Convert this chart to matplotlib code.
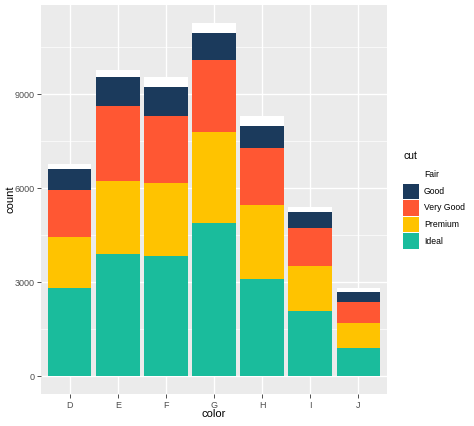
import matplotlib
matplotlib.use("Agg")
import matplotlib.pyplot as plt
import matplotlib.patches as mpatches
import numpy as np

plt.rcParams["font.family"] = ["Liberation Sans", "DejaVu Sans"]

# diamonds: count by color and cut
colors = ["D", "E", "F", "G", "H", "I", "J"]
cuts = ["Fair", "Good", "Very Good", "Premium", "Ideal"]
fair = [163, 224, 312, 314, 303, 175, 119]
good = [662, 933, 909, 871, 702, 522, 307]
very_good = [1513, 2400, 2164, 2299, 1824, 1204, 678]
premium = [1603, 2337, 2331, 2924, 2360, 1428, 808]
ideal = [2834, 3903, 3826, 4884, 3115, 2093, 896]
yticks = [0, 3000, 6000, 9000]

fills = {"Fair": "#FFFFFF", "Good": "#1B3A5C", "Very Good": "#FF5733",
         "Premium": "#FFC300", "Ideal": "#1ABC9C"}

W, H = 474, 426
fig = plt.figure(figsize=(W / 100, H / 100), dpi=100)
ax_l, ax_b, ax_w, ax_h = 41, 32, 346, 389
ax = fig.add_axes([ax_l / W, ax_b / H, ax_w / W, ax_h / H])
ax.set_facecolor("#EBEBEB")

x = np.arange(1, len(colors) + 1)
# stack from bottom: Ideal, Premium, Very Good, Good, Fair
bottom = np.zeros(len(colors))
for name, vals in [("Ideal", ideal), ("Premium", premium), ("Very Good", very_good),
                   ("Good", good), ("Fair", fair)]:
    ax.bar(x, vals, width=0.9, bottom=bottom, color=fills[name], zorder=3, linewidth=0)
    bottom += np.array(vals)

total_max = bottom.max()
ax.set_ylim(-0.05 * total_max, total_max * 1.05)
ax.set_xlim(0.4, len(colors) + 0.6)

ax.set_xticks(x)
ax.set_xticklabels(colors)
ax.set_yticks(yticks)
ax.set_yticks([1500, 4500, 7500, 10500], minor=True)
ax.grid(True, which="major", color="white", linewidth=1.0, zorder=0)
ax.grid(True, which="minor", axis="y", color="white", linewidth=0.5, zorder=0)
ax.set_axisbelow(True)
for s in ax.spines.values():
    s.set_visible(False)
ax.tick_params(which="major", length=2.75, width=0.6, color="#333333", labelsize=6.5,
               labelcolor="#4D4D4D", pad=2)
ax.tick_params(which="minor", length=0)
ax.set_xlabel("color", fontsize=8)
ax.set_ylabel("count", fontsize=8)
# place axis titles where the reference has them
ax.xaxis.set_label_coords(0.5, -(414 - (H - ax_b)) / ax_h)
ax.yaxis.set_label_coords(-(ax_l - 10) / ax_w, 0.5)
ax.xaxis.label.set_va("center")
ax.yaxis.label.set_va("center")

# legend drawn by hand, ggplot style keys
fig.text(403 / W, 1 - 156 / H, "cut", fontsize=7.5, ha="left", va="center")
for i, c in enumerate(cuts):
    top = 167 + i * 16.6
    rect = mpatches.Rectangle((403 / W, 1 - (top + 15.5) / H), 15.5 / W, 15.5 / H,
                              facecolor=fills[c], edgecolor="none",
                              transform=fig.transFigure)
    fig.add_artist(rect)
    fig.text(424 / W, 1 - (top + 7.75) / H, c, fontsize=6.2, ha="left", va="center")

fig.savefig("out.png", dpi=100)
